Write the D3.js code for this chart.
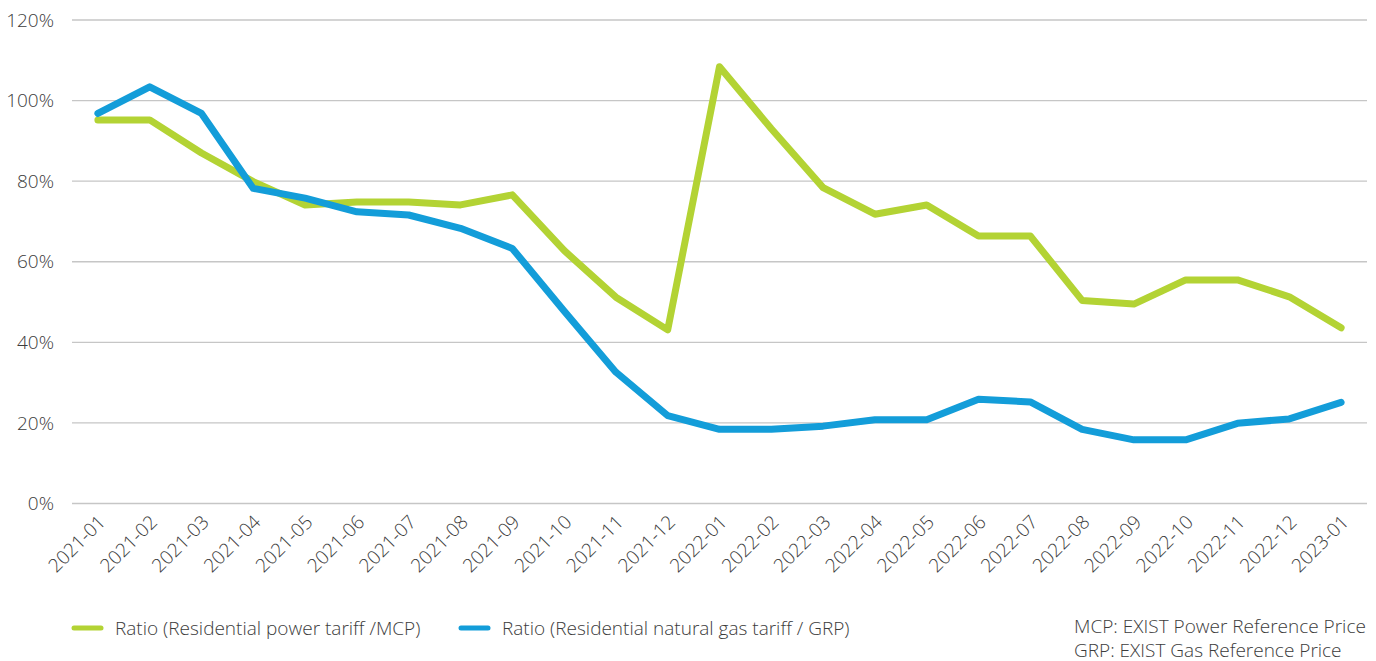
<!DOCTYPE html>
<html>
<head>
<meta charset="utf-8">
<script src="https://cdn.jsdelivr.net/npm/d3@7"></script>
<style>
  body { margin: 0; background: #fff; }
  text { font-family: "Open Sans", sans-serif; font-weight: 300; fill: #3c3c3c; }
</style>
</head>
<body>
<div id="chart"></div>
<script>
// months on the x axis
var months = ["2021-01","2021-02","2021-03","2021-04","2021-05","2021-06","2021-07","2021-08","2021-09","2021-10","2021-11","2021-12",
  "2022-01","2022-02","2022-03","2022-04","2022-05","2022-06","2022-07","2022-08","2022-09","2022-10","2022-11","2022-12","2023-01"];

// Ratio (Residential power tariff / MCP), percent
var powerRatio = [95.2, 95.2, 87, 79.9, 74.1, 74.8, 74.8, 74.1, 76.6, 62.8, 51.2, 43.1,
  108.4, 93, 78.4, 71.8, 74.1, 66.4, 66.4, 50.4, 49.5, 55.5, 55.5, 51.3, 43.6];

// Ratio (Residential natural gas tariff / GRP), percent
var gasRatio = [96.8, 103.4, 96.8, 78.2, 75.8, 72.4, 71.6, 68.3, 63.3, 47.8, 32.6, 21.8,
  18.4, 18.4, 19.2, 20.8, 20.8, 25.9, 25.2, 18.4, 15.8, 15.8, 19.9, 21, 25.1];

var yTicks = [0, 20, 40, 60, 80, 100, 120];

var seriesNames = ["Ratio (Residential power tariff /MCP)", "Ratio (Residential natural gas tariff / GRP)"];
var notes = ["MCP: EXIST Power Reference Price", "GRP: EXIST Gas Reference Price"];

var green = "#b3d334";
var blue = "#139dd9";
var fontSize = "19px";

var width = 1376, height = 661;
var plotLeft = 72, plotRight = 1367, plotTop = 20, plotBottom = 503.5;

var svg = d3.select("#chart").append("svg")
  .attr("width", width)
  .attr("height", height);

var x = d3.scalePoint()
  .domain(months)
  .range([plotLeft, plotRight])
  .padding(0.5);

var y = d3.scaleLinear()
  .domain([0, 120])
  .range([plotBottom, plotTop]);

// grid lines
svg.append("g")
  .selectAll("line")
  .data(yTicks)
  .enter().append("line")
  .attr("x1", plotLeft)
  .attr("x2", plotRight)
  .attr("y1", function(d){ return y(d); })
  .attr("y2", function(d){ return y(d); })
  .attr("stroke", "#c6c6c6")
  .attr("stroke-width", 1.3);

// y labels
svg.append("g")
  .selectAll("text")
  .data(yTicks)
  .enter().append("text")
  .attr("x", 54)
  .attr("y", function(d){ return y(d); })
  .attr("dy", "0.35em")
  .attr("text-anchor", "end")
  .style("font-size", fontSize)
  .text(function(d){ return d + "%"; });

// x labels, rotated
svg.append("g")
  .selectAll("text")
  .data(months)
  .enter().append("text")
  .attr("transform", function(d){ return "translate(" + (x(d) + 4) + "," + (plotBottom + 15) + ") rotate(-45)"; })
  .attr("text-anchor", "end")
  .attr("dy", "0.35em")
  .style("font-size", fontSize)
  .text(function(d){ return d; });

var line = d3.line()
  .x(function(d, i){ return x(months[i]); })
  .y(function(d){ return y(d); });

svg.append("path")
  .datum(powerRatio)
  .attr("d", line)
  .attr("fill", "none")
  .attr("stroke", green)
  .attr("stroke-width", 7)
  .attr("stroke-linejoin", "round")
  .attr("stroke-linecap", "round");

svg.append("path")
  .datum(gasRatio)
  .attr("d", line)
  .attr("fill", "none")
  .attr("stroke", blue)
  .attr("stroke-width", 7)
  .attr("stroke-linejoin", "round")
  .attr("stroke-linecap", "round");

// legend
var legendItems = [
  {name: seriesNames[0], color: green, x: 74},
  {name: seriesNames[1], color: blue, x: 461}
];
var legend = svg.append("g")
  .selectAll("g")
  .data(legendItems)
  .enter().append("g")
  .attr("transform", function(d){ return "translate(" + d.x + ",628)"; });

legend.append("line")
  .attr("x1", 0).attr("x2", 27)
  .attr("stroke", function(d){ return d.color; })
  .attr("stroke-width", 5)
  .attr("stroke-linecap", "round");

legend.append("text")
  .attr("x", 41)
  .attr("dy", "0.35em")
  .style("font-size", fontSize)
  .text(function(d){ return d.name; });

// notes, bottom right
svg.append("g")
  .selectAll("text")
  .data(notes)
  .enter().append("text")
  .attr("x", 1074)
  .attr("y", function(d, i){ return 626 + i * 24; })
  .attr("dy", "0.35em")
  .style("font-size", fontSize)
  .text(function(d){ return d; });
</script>
</body>
</html>
